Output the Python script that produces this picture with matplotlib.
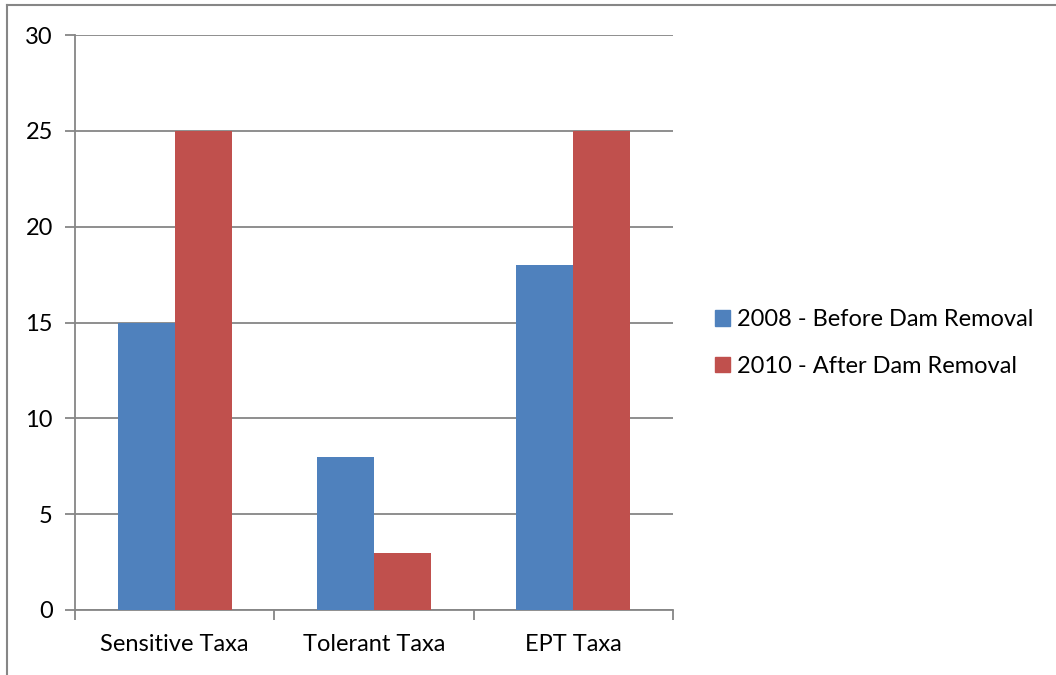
import numpy as np
import matplotlib.pyplot as plt
from matplotlib.lines import Line2D
from matplotlib.patches import Patch

plt.rcParams['font.family'] = ['Lato', 'DejaVu Sans']

# data
categories = ['Sensitive Taxa', 'Tolerant Taxa', 'EPT Taxa']
before_2008 = [15, 8, 18]
after_2010 = [25, 3, 25]
series_names = ['2008 - Before Dam Removal', '2010 - After Dam Removal']
yticks = [0, 5, 10, 15, 20, 25, 30]

blue = '#4F81BD'
red = '#C0504D'
grid_gray = '#868686'
fs = 17

fig = plt.figure(figsize=(10.56, 6.75), dpi=100)
ax = fig.add_axes([75/1056, 1 - 610/675, 598/1056, 575/675])

x = np.arange(len(categories))
w = 0.286
ax.bar(x - w/2, before_2008, w, color=blue, zorder=3)
ax.bar(x + w/2, after_2010, w, color=red, zorder=3)

ax.set_xlim(-0.5, len(categories) - 0.5)
ax.set_ylim(0, 30)
ax.set_yticks(yticks)
ax.yaxis.grid(True, color=grid_gray, linewidth=1.3, zorder=0)

ax.set_xticks(x)
ax.set_xticklabels(categories, fontsize=fs)
ax.set_xticks(np.arange(len(categories) + 1) - 0.5, minor=True)
ax.tick_params(axis='x', which='major', length=0, pad=17)
ax.tick_params(axis='x', which='minor', length=7, width=1.3, color=grid_gray)
ax.tick_params(axis='y', length=7, width=1.3, color=grid_gray, labelsize=fs, pad=9)

for s in ['top', 'right']:
    ax.spines[s].set_visible(False)
for s in ['left', 'bottom']:
    ax.spines[s].set_color(grid_gray)
    ax.spines[s].set_linewidth(1.3)

handles = [Patch(color=blue, label=series_names[0]),
           Patch(color=red, label=series_names[1])]
fig.legend(handles=handles, loc='center left', bbox_to_anchor=(694/1056, 1 - 343/675),
           frameon=False, fontsize=fs, handlelength=0.64, handleheight=0.64,
           handletextpad=0.3, labelspacing=1.1)

# chart area border (only top and left visible in the crop)
fig.add_artist(Line2D([7/1056, 7/1056], [0, 1 - 5/675], transform=fig.transFigure,
                      color=grid_gray, linewidth=1.5))
fig.add_artist(Line2D([7/1056, 1], [1 - 5/675, 1 - 5/675], transform=fig.transFigure,
                      color=grid_gray, linewidth=1.5))

plt.savefig('out.png')
